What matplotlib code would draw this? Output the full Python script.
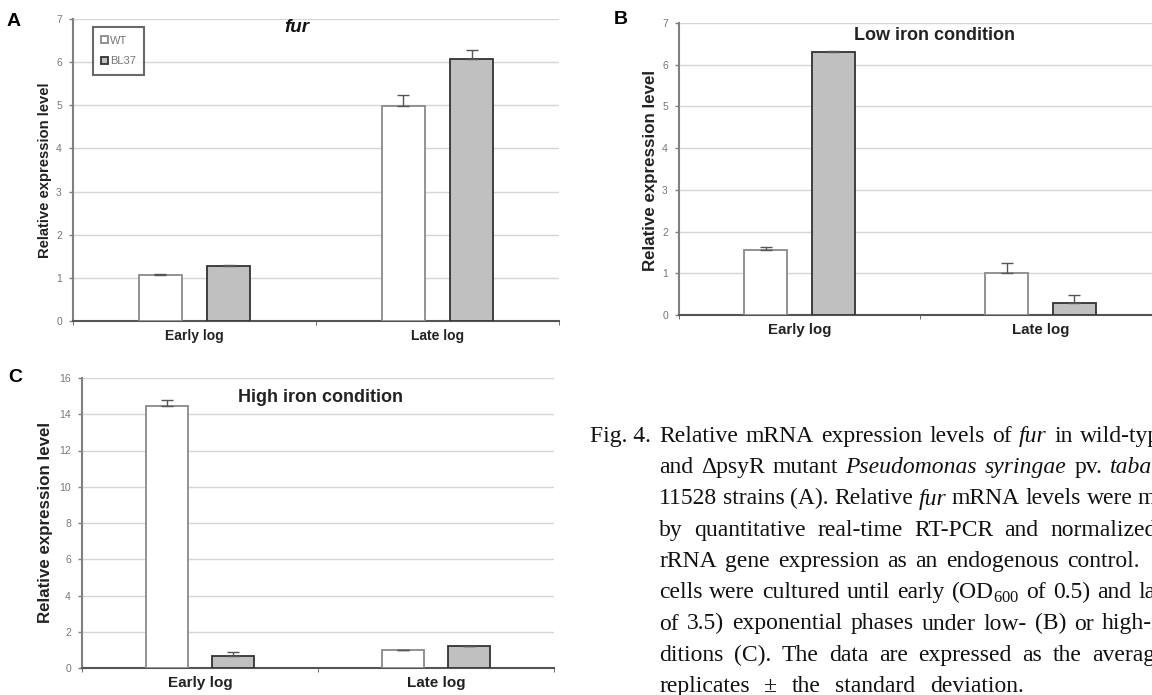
import numpy as np
import matplotlib
matplotlib.use("Agg")
import matplotlib.pyplot as plt

# --- data ---
categories = ["Early log", "Late log"]
series = ["WT", "BL37"]

fur_wt = [1.06, 4.99]
fur_wt_err = [0.04, 0.26]
fur_bl = [1.28, 6.08]
fur_bl_err = [0.02, 0.21]

low_wt = [1.57, 1.01]
low_wt_err = [0.05, 0.24]
low_bl = [6.30, 0.29]
low_bl_err = [0.02, 0.20]

high_wt = [14.45, 1.00]
high_wt_err = [0.35, 0.0]
high_bl = [0.64, 1.19]
high_bl_err = [0.22, 0.0]

W, H = 1152, 695
fig = plt.figure(figsize=(W / 100, H / 100), dpi=100)


def fx(px):
    return px / W


def fy(py):
    return 1 - py / H


def axes_px(left, top, right, bottom):
    return fig.add_axes([fx(left), fy(bottom), (right - left) / W, (bottom - top) / H])


SANS = "Liberation Sans"
SERIF = "Liberation Serif"


def draw_panel(ax, wt, wt_err, bl, bl_err, ymax, ystep, cat_size, legend=False):
    x = np.arange(len(categories))
    ekw = dict(ecolor="#555555", elinewidth=1.0, capsize=4.5, capthick=1.0, zorder=4)
    ax.bar(x - 0.14, wt, 0.18, yerr=[np.zeros(len(wt)), wt_err], color="white",
           edgecolor="#8a8a8a", linewidth=1.3, error_kw=ekw, label=series[0], zorder=3)
    ax.bar(x + 0.14, bl, 0.18, yerr=[np.zeros(len(bl)), bl_err], color="#c0c0c0",
           edgecolor="#333333", linewidth=1.3, error_kw=ekw, label=series[1], zorder=3)
    ax.set_xlim(-0.5, 1.5)
    ax.set_ylim(0, ymax)
    ax.set_yticks(np.arange(0, ymax + 0.01, ystep))
    ax.set_axisbelow(True)
    ax.yaxis.grid(True, color="#d6d6d6", linewidth=1.0)
    for s in ("top", "right"):
        ax.spines[s].set_visible(False)
    ax.spines["left"].set_color("#808080")
    ax.spines["left"].set_linewidth(1.5)
    ax.spines["bottom"].set_color("#555555")
    ax.spines["bottom"].set_linewidth(1.5)
    ax.tick_params(axis="y", direction="out", length=3, width=1, color="#808080",
                   labelsize=7.5, labelcolor="#777777", pad=5)
    for t in ax.get_yticklabels():
        t.set_family(SANS)
    ax.set_xticks(x)
    ax.set_xticklabels(categories, fontsize=cat_size, fontweight="bold",
                       family=SANS, color="#222222")
    ax.tick_params(axis="x", which="major", length=0, pad=6)
    ax.set_xticks([-0.5, 0.5, 1.5], minor=True)
    ax.tick_params(axis="x", which="minor", direction="out", length=3, color="#555555")
    if legend:
        leg = ax.legend(loc="upper left", bbox_to_anchor=(0.041, 0.972), borderaxespad=0,
                        frameon=True, fancybox=False, edgecolor="#444444",
                        handlelength=0.6, handleheight=0.6, handletextpad=0.2,
                        labelspacing=0.95, borderpad=0.75, prop={"family": SANS, "size": 8})
        leg.get_frame().set_linewidth(1.5)
        for t in leg.get_texts():
            t.set_color("#777777")


# panel A
axA = axes_px(73, 19, 559, 321)
draw_panel(axA, fur_wt, fur_wt_err, fur_bl, fur_bl_err, 7, 1, 10, legend=True)
# panel B (runs past the right edge, as in the source crop)
axB = axes_px(679, 23, 1161, 315)
draw_panel(axB, low_wt, low_wt_err, low_bl, low_bl_err, 7, 1, 10.8)
# panel C
axC = axes_px(82, 378, 554, 668)
draw_panel(axC, high_wt, high_wt_err, high_bl, high_bl_err, 16, 2, 11)

# titles, letters, y labels
fig.text(fx(297), fy(28), "fur", fontsize=13.5, fontweight="bold", style="italic",
         family=SANS, ha="center", va="center", color="#111111")
fig.text(fx(935), fy(36), "Low iron condition", fontsize=13, fontweight="bold",
         family=SANS, ha="center", va="center", color="#222222")
fig.text(fx(320), fy(397), "High iron condition", fontsize=13, fontweight="bold",
         family=SANS, ha="center", va="center", color="#222222")

for lab, px, py in [("A", 14, 21), ("B", 621, 20), ("C", 15, 377)]:
    fig.text(fx(px), fy(py), lab, fontsize=14, fontweight="bold", family=SANS,
             ha="center", va="center", color="black")

for px, py, size in [(45, 170, 10.6), (650, 170, 12.2), (46, 522, 12.2)]:
    fig.text(fx(px), fy(py), "Relative expression level", rotation=90, fontsize=size,
             fontweight="bold", family=SANS, ha="center", va="center", color="#222222")

# --- caption, set word by word to imitate the justified block ---
CAP = 17
renderer = fig.canvas.get_renderer()


def caption_line(text, x0, x_last, y):
    words = text.split(" ")
    objs = []
    for w in words:
        style = "normal"
        if w.startswith("*"):
            w, style = w[1:], "italic"
        objs.append(fig.text(0, fy(y), w, fontsize=CAP, family=SERIF, style=style,
                             va="baseline", ha="left", color="#111111"))
    widths = [t.get_window_extent(renderer).width for t in objs]
    gap = (x_last - x0 - sum(widths[:-1])) / max(len(words) - 1, 1)
    x = x0
    for t, wd in zip(objs, widths):
        t.set_x(fx(x))
        x += wd + gap


caption = [
    ("Relative mRNA expression levels of *fur in wild-type", 1080),
    ("and \u0394psyR mutant *Pseudomonas *syringae pv. *tabaci", 1110),
    ("11528 strains (A). Relative *fur mRNA levels were measured", 1138),
    ("by quantitative real-time RT-PCR and normalized", 1050),
    ("rRNA gene expression as an endogenous control.", 1067),
    ("cells were cultured until early (OD$_{\\mathregular{600}}$ of 0.5) and late", 1138),
    ("of 3.5) exponential phases under low- (B) or high-iron", 1102),
    ("ditions (C). The data are expressed as the averages", 1092),
    ("replicates \u00b1 the standard deviation.", 930),
]
fig.text(fx(590), fy(442), "Fig. 4.", fontsize=CAP, family=SERIF, va="baseline",
         ha="left", color="#111111")
for i, (line, xl) in enumerate(caption):
    caption_line(line, 659, xl, 442 + 31.25 * i)

fig.savefig("out.png", dpi=100)
